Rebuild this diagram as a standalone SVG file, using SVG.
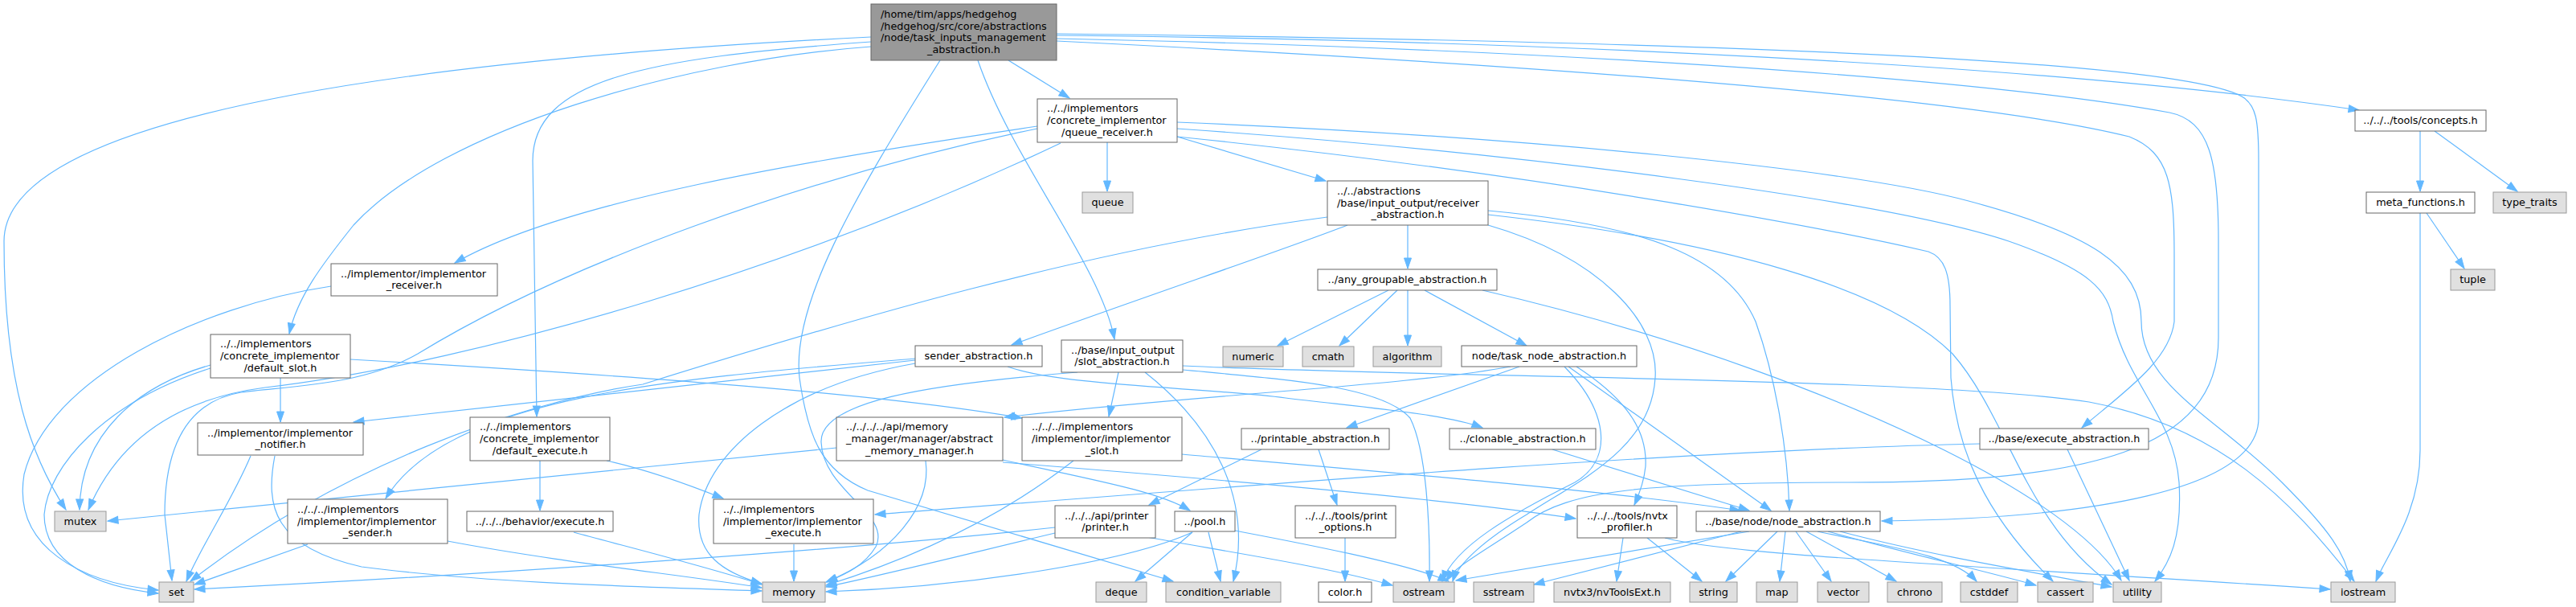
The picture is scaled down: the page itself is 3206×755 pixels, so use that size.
<svg xmlns="http://www.w3.org/2000/svg" width="3206" height="755" viewBox="0 0 3206 755">
<style>
text{font-family:"DejaVu Sans","Liberation Sans",sans-serif;font-size:12.8px;fill:#000}
.m{text-anchor:middle}
.w rect{fill:#fff;stroke:#666;stroke-width:1}
.g rect{fill:#e0e0e0;stroke:#999;stroke-width:1}
.r rect{fill:#999;stroke:#666;stroke-width:1}
#edges path{fill:none;stroke:#63b8ff;stroke-width:1.2;marker-end:url(#a)}
</style>
<defs>
<marker id="a" markerUnits="userSpaceOnUse" markerWidth="14" markerHeight="10" refX="13" refY="5" orient="auto" overflow="visible"><path d="M0,0.5L13,5L0,9.5z" fill="#63b8ff" stroke="#63b8ff" stroke-width="1"/></marker>
</defs>
<rect x="0" y="0" width="3206" height="755" fill="#fff"/>
<g id="edges">
<path d="M1084,46 C600,70 5,130 5,300 C5,480 40,570 82,634"/>
<path d="M1084,52 C800,72 663,100 663,200 L668,518"/>
<path d="M1084,58 C850,75 550,160 440,280 C400,330 370,370 360,415"/>
<path d="M1170,75 C1060,250 985,380 995,470 C1005,540 1020,585 1080,610 L1460,723"/>
<path d="M1217,75 C1260,200 1370,330 1387,422"/>
<path d="M1255,75 L1331,122"/>
<path d="M1315,44 C1900,50 2550,80 2936,137"/>
<path d="M1315,42 C2000,50 2700,70 2790,120 C2808,130 2811,150 2811,200 L2811,520 C2811,610 2600,645 2342,648"/>
<path d="M1315,48 C1900,60 2450,95 2700,140 C2750,150 2761,200 2761,300 L2761,420 C2761,560 2600,600 2300,600 C2050,600 1950,610 1900,650 C1840,690 1810,705 1800,723"/>
<path d="M1315,51 C1900,80 2450,120 2650,170 C2700,190 2706,230 2706,320 L2706,400 C2700,450 2640,490 2591,532"/>
<path d="M1378,177 L1378,238"/>
<path d="M1291,157 C1000,200 700,250 566,327"/>
<path d="M1291,160 C1000,220 700,330 520,440 C450,480 360,480 300,488 C230,500 205,560 205,640 L214,722"/>
<path d="M1320,178 C1000,330 600,450 330,482 C230,495 150,540 110,634"/>
<path d="M1465,170 L1650,225"/>
<path d="M1465,152 C1900,170 2300,210 2450,250 C2600,290 2665,330 2665,400 C2665,480 2760,520 2840,600 C2900,660 2920,690 2925,723"/>
<path d="M1465,160 C1900,190 2350,250 2500,300 C2600,335 2624,360 2630,400 C2650,480 2706,520 2712,600 C2716,670 2700,700 2682,723"/>
<path d="M1465,170 C1950,220 2300,290 2400,313 C2420,320 2427,340 2427,380 L2428,470 C2435,560 2470,640 2555,723"/>
<path d="M1752,280 L1752,334"/>
<path d="M1677,280 C1600,310 1450,360 1259,429"/>
<path d="M1652,270 C1350,310 1050,400 800,478 C650,500 420,580 237,723"/>
<path d="M1852,262 C2050,280 2150,320 2185,400 C2210,470 2225,560 2227,635"/>
<path d="M1852,267 C2150,300 2350,360 2430,440 C2500,520 2520,650 2628,727"/>
<path d="M1852,280 C1990,320 2065,400 2060,470 C2055,560 1960,600 1900,640 C1850,670 1815,700 1808,723"/>
<path d="M1728,361 L1590,430"/>
<path d="M1739,361 L1667,430"/>
<path d="M1752,361 L1752,430"/>
<path d="M1773,361 L1900,430"/>
<path d="M1845,361 C2100,420 2300,500 2420,560 C2550,625 2615,680 2640,722"/>
<path d="M1891,456 L1676,532"/>
<path d="M1880,456 C1750,480 1500,490 1250,519"/>
<path d="M1952,456 L2204,635"/>
<path d="M1962,456 C2030,500 2050,540 2048,580 C2046,600 2040,615 2034,628"/>
<path d="M1947,456 C2000,510 2010,570 1960,600 C1880,640 1810,680 1795,723"/>
<path d="M1932,559 L2177,635"/>
<path d="M1254,456 C1320,480 1500,482 1600,495 C1700,507 1800,515 1845,532"/>
<path d="M1139,446 C850,470 560,490 480,620"/>
<path d="M1139,452 C980,480 880,560 870,640 C866,690 900,712 948,726"/>
<path d="M1139,448 L440,525"/>
<path d="M1392,463 L1380,518"/>
<path d="M1425,463 C1510,530 1560,620 1535,723"/>
<path d="M1341,463 C1150,478 1020,500 1022,550 C1024,610 1110,640 1090,680 C1075,705 1050,715 1029,724"/>
<path d="M1472,460 C1600,472 1720,480 1755,520 C1775,560 1780,650 1779,723"/>
<path d="M1472,455 C1800,470 2400,470 2600,500 C2760,530 2850,620 2930,723"/>
<path d="M1336,573 C1250,640 1150,690 1028,728"/>
<path d="M1471,565 C1700,585 2000,610 2166,635"/>
<path d="M1041,557 L134,648"/>
<path d="M1152,573 C1160,630 1110,690 1028,724"/>
<path d="M1248,572 C1350,595 1440,610 1481,635"/>
<path d="M1248,575 C1500,595 1800,620 1961,645"/>
<path d="M1484,662 L1413,723"/>
<path d="M1504,662 L1519,723"/>
<path d="M1484,662 C1400,700 1200,730 1028,736"/>
<path d="M1537,660 C1600,672 1750,700 1803,723"/>
<path d="M1313,656 C1000,690 500,720 242,733"/>
<path d="M1313,663 C1200,690 1100,715 1028,730"/>
<path d="M1427,668 C1550,690 1650,705 1733,728"/>
<path d="M1570,559 L1430,628"/>
<path d="M1641,559 L1664,628"/>
<path d="M1674,669 L1674,723"/>
<path d="M2020,669 L2012,723"/>
<path d="M2050,669 L2118,723"/>
<path d="M2072,669 C2150,690 2400,700 2900,733"/>
<path d="M2177,661 L1812,722"/>
<path d="M2167,661 L1909,727"/>
<path d="M2212,661 L2148,723"/>
<path d="M2222,661 L2215,723"/>
<path d="M2235,661 L2279,723"/>
<path d="M2248,661 L2360,723"/>
<path d="M2262,661 C2350,680 2430,690 2460,723"/>
<path d="M2275,661 C2380,690 2470,710 2534,728"/>
<path d="M2290,661 C2400,690 2520,710 2628,730"/>
<path d="M2464,552 C2100,560 1600,600 1089,640"/>
<path d="M2573,559 L2650,722"/>
<path d="M412,356 C250,380 60,470 30,590 C15,680 100,725 197,734"/>
<path d="M262,454 C170,480 100,540 99,634"/>
<path d="M262,458 C130,500 60,580 55,640 C55,700 120,730 197,738"/>
<path d="M349,470 L349,525"/>
<path d="M436,447 C800,468 1100,490 1272,520"/>
<path d="M312,567 C290,620 250,680 232,723"/>
<path d="M342,567 C330,630 340,680 450,705 C600,725 800,730 948,735"/>
<path d="M672,573 L672,635"/>
<path d="M755,573 C800,583 850,600 900,620"/>
<path d="M383,677 L242,727"/>
<path d="M557,673 C700,700 850,715 948,731"/>
<path d="M714,662 C780,680 880,705 948,727"/>
<path d="M988,677 L988,723"/>
<path d="M3012,163 L3012,238"/>
<path d="M3030,163 L3133,238"/>
<path d="M3020,265 L3067,334"/>
<path d="M3012,265 L3012,560 C3012,640 2970,690 2957,723"/>
</g>
<g id="root" class="r"><rect x="1084" y="5" width="231" height="70"/><text x="1096" y="22.1">/home/tim/apps/hedgehog</text><text x="1096" y="36.7">/hedgehog/src/core/abstractions</text><text x="1096" y="51.3">/node/task_inputs_management</text><text class="m" x="1199.5" y="65.9">_abstraction.h</text></g>
<g id="queue_receiver" class="w"><rect x="1291" y="123" width="174" height="54"/><text x="1303" y="139.4">../../implementors</text><text x="1303" y="154">/concrete_implementor</text><text class="m" x="1378" y="168.6">/queue_receiver.h</text></g>
<g id="queue" class="g"><rect x="1347" y="239" width="63" height="26"/><text class="m" x="1378.5" y="256">queue</text></g>
<g id="receiver_abstraction" class="w"><rect x="1652" y="225" width="200" height="55"/><text x="1664" y="241.9">../../abstractions</text><text x="1664" y="256.5">/base/input_output/receiver</text><text class="m" x="1752" y="271.1">_abstraction.h</text></g>
<g id="any_groupable" class="w"><rect x="1640" y="335" width="223" height="26"/><text class="m" x="1751.5" y="352">../any_groupable_abstraction.h</text></g>
<g id="concepts" class="w"><rect x="2931" y="137" width="163" height="26"/><text class="m" x="3012.5" y="154">../../../tools/concepts.h</text></g>
<g id="meta_functions" class="w"><rect x="2945" y="239" width="135" height="26"/><text class="m" x="3012.5" y="256">meta_functions.h</text></g>
<g id="type_traits" class="g"><rect x="3103" y="239" width="91" height="26"/><text class="m" x="3148.5" y="256">type_traits</text></g>
<g id="tuple" class="g"><rect x="3050" y="335" width="55" height="26"/><text class="m" x="3077.5" y="352">tuple</text></g>
<g id="implementor_receiver" class="w"><rect x="412" y="328" width="207" height="40"/><text x="424" y="344.7">../implementor/implementor</text><text class="m" x="515.5" y="359.3">_receiver.h</text></g>
<g id="default_slot" class="w"><rect x="262" y="416" width="174" height="54"/><text x="274" y="432.4">../../implementors</text><text x="274" y="447">/concrete_implementor</text><text class="m" x="349" y="461.6">/default_slot.h</text></g>
<g id="implementor_notifier" class="w"><rect x="246" y="526" width="206" height="40"/><text x="258" y="542.7">../implementor/implementor</text><text class="m" x="349" y="557.3">_notifier.h</text></g>
<g id="default_execute" class="w"><rect x="585" y="519" width="174" height="54"/><text x="597" y="535.4">../../implementors</text><text x="597" y="550">/concrete_implementor</text><text class="m" x="672" y="564.6">/default_execute.h</text></g>
<g id="mutex" class="g"><rect x="68" y="636" width="64" height="25"/><text class="m" x="100" y="652.5">mutex</text></g>
<g id="implementor_sender" class="w"><rect x="358" y="621" width="199" height="55"/><text x="370" y="637.9">../../../implementors</text><text x="370" y="652.5">/implementor/implementor</text><text class="m" x="457.5" y="667.1">_sender.h</text></g>
<g id="behavior_execute" class="w"><rect x="581" y="636" width="182" height="25"/><text class="m" x="672" y="652.5">../../../behavior/execute.h</text></g>
<g id="set" class="g"><rect x="198" y="724" width="43" height="25"/><text class="m" x="219.5" y="740.5">set</text></g>
<g id="sender_abstraction" class="w"><rect x="1139" y="430" width="158" height="26"/><text class="m" x="1218" y="447">sender_abstraction.h</text></g>
<g id="slot_abstraction" class="w"><rect x="1321" y="423" width="151" height="40"/><text x="1333" y="439.7">../base/input_output</text><text class="m" x="1396.5" y="454.3">/slot_abstraction.h</text></g>
<g id="numeric" class="g"><rect x="1522" y="431" width="75" height="25"/><text class="m" x="1559.5" y="447.5">numeric</text></g>
<g id="cmath" class="g"><rect x="1621" y="431" width="64" height="25"/><text class="m" x="1653" y="447.5">cmath</text></g>
<g id="algorithm" class="g"><rect x="1709" y="431" width="85" height="25"/><text class="m" x="1751.5" y="447.5">algorithm</text></g>
<g id="task_node_abstraction" class="w"><rect x="1819" y="430" width="218" height="26"/><text class="m" x="1928" y="447">node/task_node_abstraction.h</text></g>
<g id="abstract_memory_manager" class="w"><rect x="1041" y="519" width="207" height="54"/><text x="1053" y="535.4">../../../../api/memory</text><text x="1053" y="550">_manager/manager/abstract</text><text class="m" x="1144.5" y="564.6">_memory_manager.h</text></g>
<g id="implementor_slot" class="w"><rect x="1272" y="519" width="199" height="54"/><text x="1284" y="535.4">../../../implementors</text><text x="1284" y="550">/implementor/implementor</text><text class="m" x="1371.5" y="564.6">_slot.h</text></g>
<g id="printable_abstraction" class="w"><rect x="1545" y="533" width="184" height="26"/><text class="m" x="1637" y="550">../printable_abstraction.h</text></g>
<g id="clonable_abstraction" class="w"><rect x="1804" y="533" width="182" height="26"/><text class="m" x="1895" y="550">../clonable_abstraction.h</text></g>
<g id="execute_abstraction" class="w"><rect x="2464" y="533" width="210" height="26"/><text class="m" x="2569" y="550">../base/execute_abstraction.h</text></g>
<g id="implementor_execute" class="w"><rect x="888" y="621" width="199" height="55"/><text x="900" y="637.9">../../implementors</text><text x="900" y="652.5">/implementor/implementor</text><text class="m" x="987.5" y="667.1">_execute.h</text></g>
<g id="printer" class="w"><rect x="1313" y="629" width="125" height="40"/><text x="1325" y="645.7">../../../api/printer</text><text class="m" x="1375.5" y="660.3">/printer.h</text></g>
<g id="pool" class="w"><rect x="1462" y="636" width="75" height="25"/><text class="m" x="1499.5" y="652.5">../pool.h</text></g>
<g id="print_options" class="w"><rect x="1612" y="629" width="125" height="40"/><text x="1624" y="645.7">../../../tools/print</text><text class="m" x="1674.5" y="660.3">_options.h</text></g>
<g id="nvtx_profiler" class="w"><rect x="1963" y="629" width="124" height="40"/><text x="1975" y="645.7">../../../tools/nvtx</text><text class="m" x="2025" y="660.3">_profiler.h</text></g>
<g id="node_abstraction" class="w"><rect x="2111" y="636" width="229" height="25"/><text class="m" x="2225.5" y="652.5">../base/node/node_abstraction.h</text></g>
<g id="memory" class="g"><rect x="949" y="724" width="78" height="25"/><text class="m" x="988" y="740.5">memory</text></g>
<g id="deque" class="g"><rect x="1364" y="724" width="63" height="25"/><text class="m" x="1395.5" y="740.5">deque</text></g>
<g id="condition_variable" class="g"><rect x="1451" y="724" width="143" height="25"/><text class="m" x="1522.5" y="740.5">condition_variable</text></g>
<g id="color" class="w"><rect x="1641" y="724" width="66" height="25"/><text class="m" x="1674" y="740.5">color.h</text></g>
<g id="ostream" class="g"><rect x="1734" y="724" width="76" height="25"/><text class="m" x="1772" y="740.5">ostream</text></g>
<g id="sstream" class="g"><rect x="1834" y="724" width="75" height="25"/><text class="m" x="1871.5" y="740.5">sstream</text></g>
<g id="nvToolsExt" class="g"><rect x="1934" y="724" width="145" height="25"/><text class="m" x="2006.5" y="740.5">nvtx3/nvToolsExt.h</text></g>
<g id="string" class="g"><rect x="2103" y="724" width="59" height="25"/><text class="m" x="2132.5" y="740.5">string</text></g>
<g id="map" class="g"><rect x="2186" y="724" width="51" height="25"/><text class="m" x="2211.5" y="740.5">map</text></g>
<g id="vector" class="g"><rect x="2262" y="724" width="64" height="25"/><text class="m" x="2294" y="740.5">vector</text></g>
<g id="chrono" class="g"><rect x="2349" y="724" width="68" height="25"/><text class="m" x="2383" y="740.5">chrono</text></g>
<g id="cstddef" class="g"><rect x="2440" y="724" width="71" height="25"/><text class="m" x="2475.5" y="740.5">cstddef</text></g>
<g id="cassert" class="g"><rect x="2536" y="724" width="69" height="25"/><text class="m" x="2570.5" y="740.5">cassert</text></g>
<g id="utility" class="g"><rect x="2630" y="724" width="60" height="25"/><text class="m" x="2660" y="740.5">utility</text></g>
<g id="iostream" class="g"><rect x="2901" y="724" width="80" height="25"/><text class="m" x="2941" y="740.5">iostream</text></g>
</svg>
